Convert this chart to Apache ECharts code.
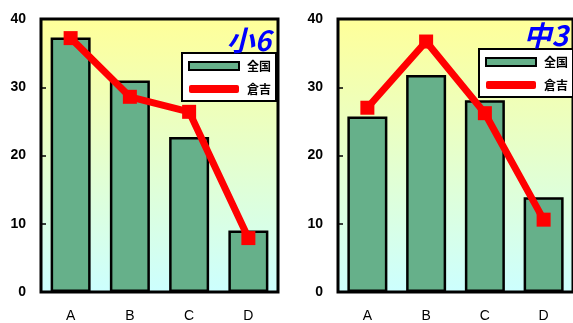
<!DOCTYPE html>
<html><head><meta charset="utf-8">
<script src="https://cdn.jsdelivr.net/npm/echarts@6/dist/echarts.min.js"></script>
<style>html,body{margin:0;padding:0;background:#fff}#c{width:573px;height:323px}</style>
</head><body><div id="c"></div>
<script>
const categories = ['A','B','C','D'];
const yTicks = [0,10,20,30,40];
const national6 = [37.3, 31.0, 22.7, 9.0];
const kurayoshi6 = [37.2, 28.6, 26.4, 7.9];
const national3 = [25.7, 31.8, 28.1, 13.9];
const kurayoshi3 = [27.0, 36.7, 26.2, 10.6];
const titles = ['小6','中3'];
const seriesNames = ['全国','倉吉'];

const chart = echarts.init(document.getElementById('c'));
const bg = new echarts.graphic.LinearGradient(0,0,0,1,[{offset:0,color:'#FFFF99'},{offset:1,color:'#CCFFFF'}]);
function grid(left){return {left:left, top:19, width:237, height:273, show:true, backgroundColor:bg, borderColor:'#000', borderWidth:3, z:0};}
function xa(i){return {type:'category', gridIndex:i, data:categories, axisLine:{show:false}, axisTick:{show:false},
  axisLabel:{margin:17, color:'#000', fontSize:14, fontFamily:'Liberation Sans, Arial'}};}
function ya(i){return {type:'value', gridIndex:i, min:yTicks[0], max:yTicks[yTicks.length-1], interval:10, splitLine:{show:false},
  axisLine:{show:false}, axisTick:{show:true, inside:true, length:5, lineStyle:{color:'#000', width:1.5}},
  axisLabel:{margin:15, color:'#000', fontSize:14, fontWeight:'bold', fontFamily:'Liberation Sans, Arial'}};}
function bar(i,d){return {name:seriesNames[0], type:'bar', xAxisIndex:i, yAxisIndex:i, data:d, barWidth:40,
  itemStyle:{color:'#66B08A', borderColor:'#000', borderWidth:2.5}, z:2};}
function line(i,d){return {name:seriesNames[1], type:'line', xAxisIndex:i, yAxisIndex:i, data:d, symbol:'rect', symbolSize:14,
  lineStyle:{color:'#FF0000', width:7}, itemStyle:{color:'#FF0000'}, z:3};}
function legend(left,top){return {left:left, top:top, orient:'vertical', backgroundColor:'#fff', borderColor:'#000', borderWidth:2,
  data:[
    {name:seriesNames[0], icon:'rect', itemStyle:{color:'#66B08A', borderColor:'#000', borderWidth:2}},
    {name:seriesNames[1], icon:'roundRect', itemStyle:{color:'#FF0000', borderWidth:0}}
  ],
  padding:[7,5,6,6], itemGap:11, itemWidth:50, itemHeight:8, selectedMode:false,
  textStyle:{fontSize:12, fontWeight:'bold', color:'#000', fontFamily:'Noto Sans CJK JP', padding:[0,0,0,3]}};}
chart.setOption({
  animation:false,
  grid:[grid(41), grid(338)],
  xAxis:[xa(0), xa(1)],
  yAxis:[ya(0), ya(1)],
  legend:[legend(182,53), legend(479,49)],
  series:[bar(0,national6), line(0,kurayoshi6), bar(1,national3), line(1,kurayoshi3)],
  graphic:[
    {type:'text', right:573-271, top:26, z:10, style:{text:titles[0], fill:'#0000FF', font:'italic bold 28px "Noto Sans CJK JP"', textAlign:'right'}},
    {type:'text', right:573-568, top:21, z:10, style:{text:titles[1], fill:'#0000FF', font:'italic bold 28px "Noto Sans CJK JP"', textAlign:'right'}}
  ]
});
</script></body></html>
